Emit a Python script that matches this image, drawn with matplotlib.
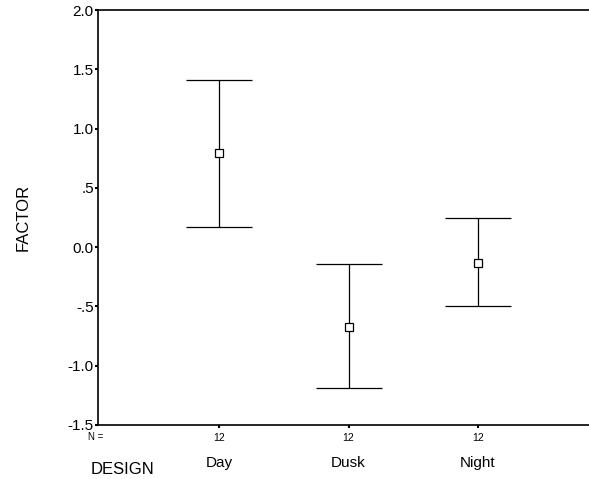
import matplotlib
matplotlib.use("Agg")
import matplotlib.pyplot as plt

categories = ["Day", "Dusk", "Night"]
means = [0.79, -0.67, -0.13]
upper = [1.41, -0.14, 0.25]
lower = [0.17, -1.19, -0.50]
counts = [12, 12, 12]
yticks = [2.0, 1.5, 1.0, 0.5, 0.0, -0.5, -1.0, -1.5]
yticklabels = ["2.0", "1.5", "1.0", ".5", "0.0", "-.5", "-1.0", "-1.5"]

plt.rcParams['font.family'] = ['Liberation Sans', 'DejaVu Sans']

fig = plt.figure(figsize=(5.89, 4.79), dpi=100)
ax = fig.add_axes([98/589, 1-425/479, 1-98/589, (425-10)/479])

x = list(range(1, len(categories)+1))
yerr = [[m - l for m, l in zip(means, lower)], [u - m for u, m in zip(upper, means)]]
ax.errorbar(x, means, yerr=yerr, fmt='s', color='black', mfc='white', mec='black',
            ms=6, mew=0.9, elinewidth=0.9, capsize=23.5, capthick=0.9, ecolor='black')

ax.set_xlim(1 - 121/129.5, 1 + (589-219)/129.5)
ax.set_ylim(-1.5, 2.0)
ax.set_yticks(yticks)
ax.set_yticklabels(yticklabels, fontsize=11)
ax.set_xticks(x)
ax.set_xticklabels([str(c) for c in counts], fontsize=7.5)
ax.tick_params(axis='y', length=2, width=1.5, pad=1)
ax.tick_params(axis='x', length=2, width=1.5, pad=4)
ax.spines['right'].set_visible(False)
for s in ['left', 'top', 'bottom']:
    ax.spines[s].set_linewidth(1.2)

fig.text(88/589, 1-437/479, "N =", fontsize=7, ha='left', va='center')
for xi, c in zip(x, categories):
    xf = fig.transFigure.inverted().transform(ax.transData.transform((xi, 0)))[0]
    fig.text(xf, 1-463/479, c, fontsize=11, ha='center', va='center')
ax.set_ylabel("FACTOR", fontsize=12, labelpad=27)
fig.text(122/589, 1-469/479, "DESIGN", fontsize=12, ha='center', va='center')

fig.savefig("out.png", dpi=100)
